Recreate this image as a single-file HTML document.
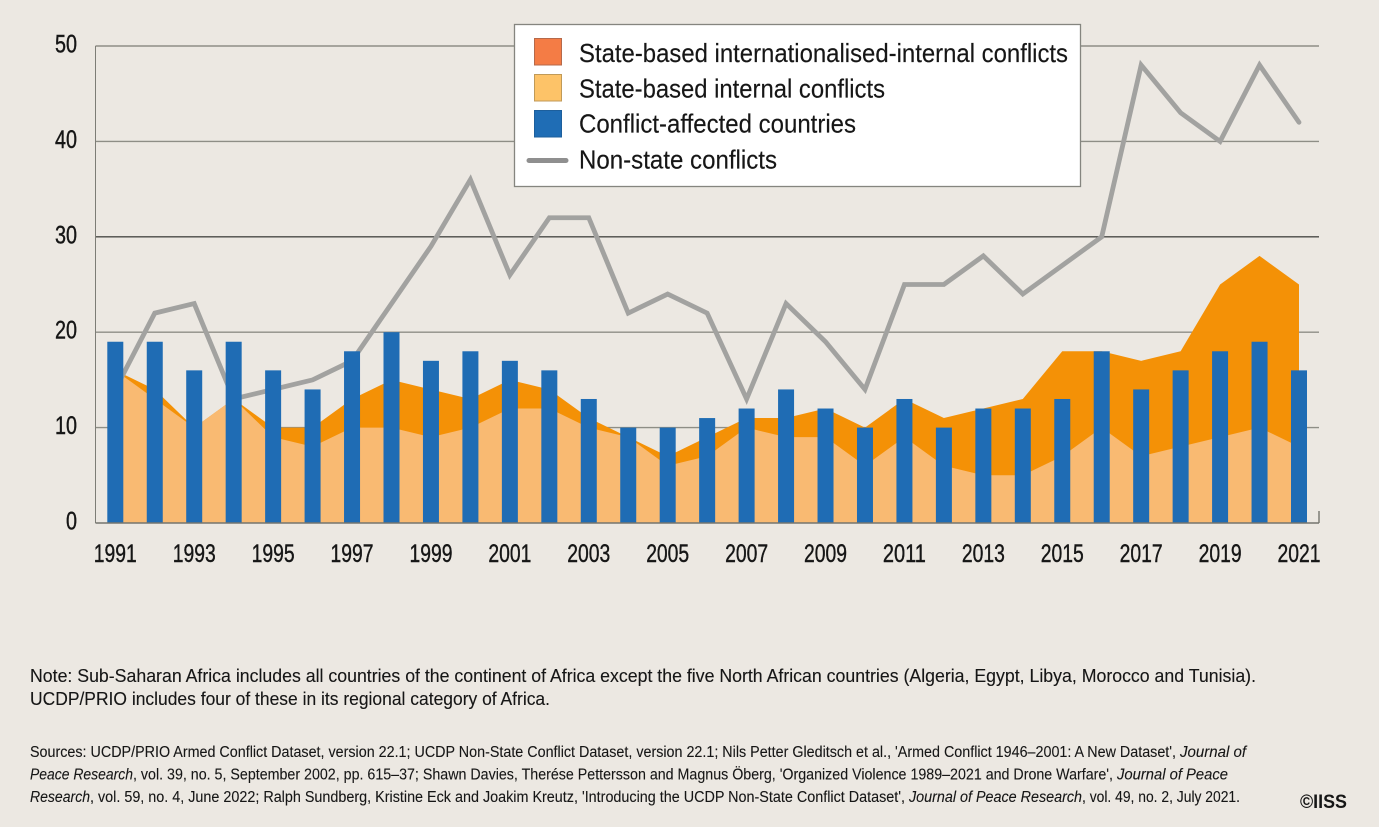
<!DOCTYPE html>
<html lang="en">
<head>
<meta charset="utf-8">
<title>Conflicts in Sub-Saharan Africa 1991-2021</title>
<style>
html,body{margin:0;padding:0;background:#ece8e2;width:1379px;height:827px;overflow:hidden}
svg{display:block}
text{font-family:"Liberation Sans Narrow","Liberation Sans",sans-serif;fill:#161616}
.tick{font-size:25px;stroke:#161616;stroke-width:.4px}
.leg{font-size:26px;stroke:#161616;stroke-width:.15px}
.note{font-size:18.5px;stroke:#161616;stroke-width:.12px}
.src{font-size:15.5px;stroke:#161616;stroke-width:.1px}
.it{font-style:italic}
</style>
</head>
<body>
<svg id="chart" xmlns="http://www.w3.org/2000/svg" width="1379" height="827" viewBox="0 0 1379 827">
<rect x="0" y="0" width="1379" height="827" fill="#ece8e2"/>
<g id="grid"></g>
<g id="areas"></g>
<g id="line"></g>
<g id="bars"></g>
<g id="axes"></g>

<g>
<rect x="514.5" y="24.5" width="566" height="162" fill="#ffffff" stroke="#85857f" stroke-width="1.3"/>
<rect x="534.5" y="38.5" width="27" height="26.5" fill="#f47c45" stroke="#b5694a" stroke-width="1"/>
<text class="leg" x="579" y="62" textLength="489" lengthAdjust="spacingAndGlyphs">State-based internationalised-internal conflicts</text>
<rect x="534.5" y="74.5" width="27" height="26.5" fill="#fdc368" stroke="#c09a58" stroke-width="1"/>
<text class="leg" x="579" y="97.5" textLength="306" lengthAdjust="spacingAndGlyphs">State-based internal conflicts</text>
<rect x="534.5" y="110.5" width="27" height="26.5" fill="#1f6db5" stroke="#1d5f9c" stroke-width="1"/>
<text class="leg" x="579" y="132.5" textLength="277" lengthAdjust="spacingAndGlyphs">Conflict-affected countries</text>
<line x1="529" y1="160.5" x2="566" y2="160.5" stroke="#8f8f8f" stroke-width="5" stroke-linecap="round"/>
<text class="leg" x="579" y="168.5" textLength="198" lengthAdjust="spacingAndGlyphs">Non-state conflicts</text>
</g>

<g>
<text class="note" x="30" y="682" textLength="1226" lengthAdjust="spacingAndGlyphs">Note: Sub-Saharan Africa includes all countries of the continent of Africa except the five North African countries (Algeria, Egypt, Libya, Morocco and Tunisia).</text>
<text class="note" x="30" y="705" textLength="520" lengthAdjust="spacingAndGlyphs">UCDP/PRIO includes four of these in its regional category of Africa.</text>
</g>

<g>
<text class="src" x="30" y="757" textLength="1146" lengthAdjust="spacingAndGlyphs">Sources: UCDP/PRIO Armed Conflict Dataset, version 22.1; UCDP Non-State Conflict Dataset, version 22.1; Nils Petter Gleditsch et al., 'Armed Conflict 1946–2001: A New Dataset',</text>
<text class="src it" x="1180" y="757" textLength="66" lengthAdjust="spacingAndGlyphs">Journal of</text>
<text class="src it" x="30" y="779.5" textLength="103" lengthAdjust="spacingAndGlyphs">Peace Research</text>
<text class="src" x="133" y="779.5" textLength="980" lengthAdjust="spacingAndGlyphs">, vol. 39, no. 5, September 2002, pp. 615–37; Shawn Davies, Therése Pettersson and Magnus Öberg, 'Organized Violence 1989–2021 and Drone Warfare',</text>
<text class="src it" x="1117" y="779.5" textLength="111" lengthAdjust="spacingAndGlyphs">Journal of Peace</text>
<text class="src it" x="30" y="802" textLength="60" lengthAdjust="spacingAndGlyphs">Research</text>
<text class="src" x="90" y="802" textLength="815" lengthAdjust="spacingAndGlyphs">, vol. 59, no. 4, June 2022; Ralph Sundberg, Kristine Eck and Joakim Kreutz, 'Introducing the UCDP Non-State Conflict Dataset',</text>
<text class="src it" x="909" y="802" textLength="173" lengthAdjust="spacingAndGlyphs">Journal of Peace Research</text>
<text class="src" x="1082" y="802" textLength="158" lengthAdjust="spacingAndGlyphs">, vol. 49, no. 2, July 2021.</text>
</g>
<text x="1300" y="808" font-size="19" font-weight="700" textLength="47" lengthAdjust="spacingAndGlyphs">©IISS</text>
</svg>

<script>
const years = [1991,1992,1993,1994,1995,1996,1997,1998,1999,2000,2001,2002,2003,2004,2005,2006,2007,2008,2009,2010,2011,2012,2013,2014,2015,2016,2017,2018,2019,2020,2021];
const internalConflicts = [16,13,10,13,9,8,10,10,9,10,12,12,10,9,6,7,10,9,9,6,9,6,5,5,7,10,7,8,9,10,8];
const internationalisedConflicts = [0,1,0,0,1,2,3,5,5,3,3,2,1,0,1,2,1,2,3,4,4,5,7,8,11,8,10,10,16,18,17];
const conflictCountries = [19,19,16,19,16,14,18,20,17,18,17,16,13,10,10,11,12,14,12,10,13,10,12,12,13,18,14,16,18,19,16];
const nonStateConflicts = [14,22,23,13,14,15,17,23,29,36,26,32,32,22,24,22,13,23,19,14,25,25,28,24,27,30,48,43,40,48,42];
const yTicks = [0,10,20,30,40,50];
const xLabelYears = [1991,1993,1995,1997,1999,2001,2003,2005,2007,2009,2011,2013,2015,2017,2019,2021];

const NS = 'http://www.w3.org/2000/svg';
const plot = {left:95.5, right:1319, top:46, bottom:523, firstX:115.3, lastX:1299};
const barWidth = 16;

function xScale(year){
  return plot.firstX + (year - years[0]) * (plot.lastX - plot.firstX) / (years[years.length-1] - years[0]);
}
function yScale(v){
  return plot.bottom - v * (plot.bottom - plot.top) / 50;
}
function make(tag, attrs, parent){
  const el = document.createElementNS(NS, tag);
  for (const k in attrs) el.setAttribute(k, attrs[k]);
  parent.appendChild(el);
  return el;
}

const gridG = document.getElementById('grid');
const areasG = document.getElementById('areas');
const lineG = document.getElementById('line');
const barsG = document.getElementById('bars');
const axesG = document.getElementById('axes');

yTicks.forEach(function(t){
  const y = yScale(t);
  if (t > 0) {
    const g = make('line', {x1:plot.left, x2:plot.right, y1:y, y2:y, stroke:(t===30?'#4a4a46':'#8e8e86'), 'stroke-width':1.4}, gridG);
    
    
  }
  const label = make('text', {class:'tick', x:77, y:y+6.5, 'text-anchor':'end', textLength:(t===0?11:22), lengthAdjust:'spacingAndGlyphs'}, axesG);
  label.textContent = String(t);
  
  
});

const totals = internalConflicts.map(function(v,i){ return v + internationalisedConflicts[i]; });
function areaPath(values){
  let d = 'M' + xScale(years[0]) + ' ' + yScale(0);
  values.forEach(function(v,i){ d += ' L' + xScale(years[i]) + ' ' + yScale(v); });
  d += ' L' + xScale(years[years.length-1]) + ' ' + yScale(0) + ' Z';
  return d;
}
const areaTotal = make('path', {d:areaPath(totals), fill:'#f49106'}, areasG);


const areaInternal = make('path', {d:areaPath(internalConflicts), fill:'#f9ba72'}, areasG);



const linePts = nonStateConflicts.map(function(v,i){ return xScale(years[i]) + ',' + yScale(v); }).join(' ');
const nsLine = make('polyline', {points:linePts, fill:'none', stroke:'#a2a2a0', 'stroke-width':4.8, 'stroke-linejoin':'miter', 'stroke-linecap':'round'}, lineG);



conflictCountries.forEach(function(v,i){
  const top = yScale(v);
  const b = make('rect', {x:xScale(years[i]) - barWidth/2, y:top, width:barWidth, height:yScale(0)-top, fill:'#1f6cb4'}, barsG);
  
  
});

const yAxis = make('line', {x1:plot.left, x2:plot.left, y1:plot.top, y2:plot.bottom, stroke:'#7d7d76', 'stroke-width':1}, axesG);


const xAxis = make('line', {x1:plot.left, x2:plot.right, y1:plot.bottom, y2:plot.bottom, stroke:'#74746e', 'stroke-width':1.6}, axesG);


const endTick = make('line', {x1:plot.right, x2:plot.right, y1:plot.bottom-12, y2:plot.bottom, stroke:'#74746e', 'stroke-width':1.4}, axesG);



xLabelYears.forEach(function(yr){
  const t = make('text', {class:'tick', x:xScale(yr), y:562, 'text-anchor':'middle', textLength:43, lengthAdjust:'spacingAndGlyphs'}, axesG);
  t.textContent = String(yr);
  
  
});
</script>
</body>
</html>
